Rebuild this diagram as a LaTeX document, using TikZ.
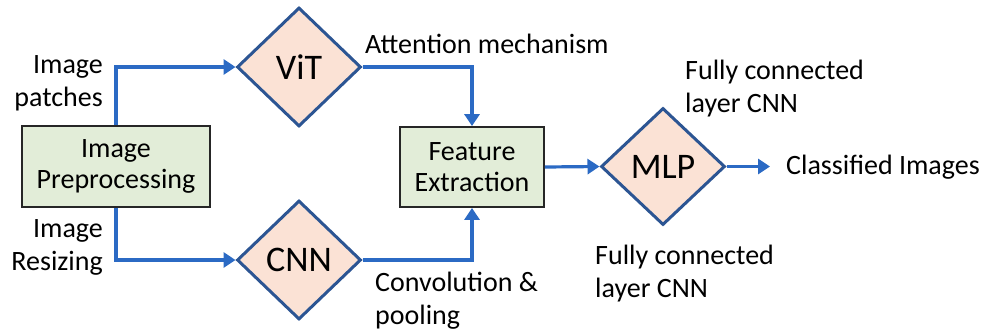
\documentclass[tikz,border=0pt]{standalone}
\usepackage{fontspec}
\setmainfont{Carlito}
\usetikzlibrary{shapes.geometric,arrows.meta}
\definecolor{linkblue}{HTML}{2B6AC4}
\definecolor{dmdborder}{HTML}{2C5593}
\definecolor{dmdfill}{HTML}{FBE2D5}
\definecolor{boxfill}{HTML}{E2EDD8}
\tikzset{
  procbox/.style={draw=black!85, line width=1.8pt, fill=boxfill, minimum width=188pt, minimum height=81pt, align=center, inner sep=0pt, font=\fontsize{28}{31}\selectfont},
  dmd/.style={diamond, draw=dmdborder, line width=3pt, fill=dmdfill, minimum width=124pt, minimum height=119pt, inner sep=0pt, font=\fontsize{36}{40}\selectfont},
  lbl/.style={inner sep=0pt, font=\fontsize{28}{33}\selectfont},
  link/.style={draw=linkblue, line width=3.2pt, -{Triangle[length=12pt,width=15pt]}},
}
\begin{document}
\begin{tikzpicture}[x=1pt,y=-1pt]
\useasboundingbox (0,0) rectangle (983,335);
\node[procbox] (prep) at (116,166.5) {Image\\Preprocessing};
\node[procbox, minimum width=144pt, minimum height=80pt] (feat) at (472,167) {Feature\\Extraction};
\node[dmd] (vit) at (299,67) {ViT};
\node[dmd] (cnn) at (299,260) {CNN};
\node[dmd, minimum height=117pt] (mlp) at (663,166.5) {MLP};
\coordinate (out) at (770,166.5);
\node[lbl, anchor=west] (cls) at (786,167) {Classified Images};
\node[lbl, anchor=east, align=right] (patch) at (103,83) {Image\\patches};
\node[lbl, anchor=east, align=right] (resz) at (103,247) {Image\\Resizing};
\node[lbl, anchor=west] (att) at (365,44) {Attention mechanism};
\node[lbl, anchor=west, align=left] (conv) at (375,301) {Convolution \&\\pooling};
\node[lbl, anchor=west, align=left] (fc1) at (685,89) {Fully connected\\layer CNN};
\node[lbl, anchor=west, align=left] (fc2) at (595,274) {Fully connected\\layer CNN};
\draw[link] (prep.north) |- (vit.west);
\draw[link] (prep.south) |- (cnn.west);
\draw[link] (vit.east) -| (feat.north);
\draw[link] (cnn.east) -| (feat.south);
\draw[link] (feat.east) -- (mlp.west);
\draw[link] (mlp.east) -- (out);
\end{tikzpicture}
\end{document}
